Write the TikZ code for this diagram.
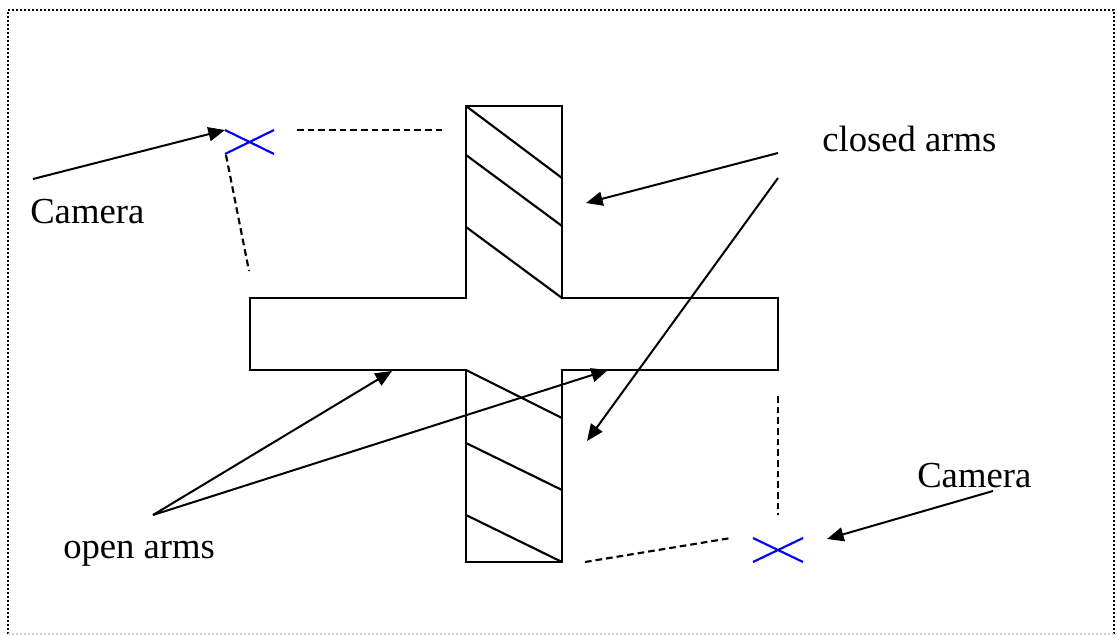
\documentclass[tikz,border=0pt]{standalone}
\usepackage{fontspec}
\setmainfont{Liberation Serif}
\usetikzlibrary{arrows.meta}
\def\LabelSize{27.5}
\def\ArmLeft{466}
\def\ArmRight{562}
\def\BarLeft{250}
\def\BarRight{778}
\def\BarTop{298}
\def\BarBottom{370}

\begin{document}
\begin{tikzpicture}[x=0.75pt,y=-0.75pt,
  frame/.style={line width=1.5pt,dash pattern=on 1.5pt off 1.5pt},
  outline/.style={line width=1.7pt,line join=miter},
  hatch/.style={line width=1.6pt},
  sightline/.style={line width=1.6pt,dash pattern=on 5pt off 3pt},
  pointer/.style={line width=1.5pt,-{Triangle[length=12.5pt,width=10.5pt]}},
  camera/.style={blue,line width=1.6pt},
  label/.style={anchor=base west,inner sep=0pt,font=\fontsize{\LabelSize}{33}\selectfont}
]

\useasboundingbox (0,0) rectangle (1117,635);

% =====================================================
% PAGE FRAME
% =====================================================
\draw[frame] (8,634) -- (8,10) -- (1114,10) -- (1114,634);
\draw[frame,gray!35] (8,634) -- (1114,634);

% =====================================================
% PLUS MAZE
% =====================================================
\draw[outline] (\BarLeft,\BarTop) -- (\ArmLeft,\BarTop) -- (\ArmLeft,106) -- (\ArmRight,106)
  -- (\ArmRight,\BarTop) -- (\BarRight,\BarTop) -- (\BarRight,\BarBottom) -- (\ArmRight,\BarBottom)
  -- (\ArmRight,562) -- (\ArmLeft,562) -- (\ArmLeft,\BarBottom) -- (\BarLeft,\BarBottom) -- cycle;

% Hatching of the closed arms
\foreach \ya/\yb in {106/178,155/226,227/298,370/418,443/490,515/562} {
    \draw[hatch] (\ArmLeft,\ya) -- (\ArmRight,\yb);
}

% =====================================================
% CAMERAS
% =====================================================
\draw[camera] (225,130) -- (274,154) (225,154) -- (274,130);
\draw[camera] (753,538) -- (803,562) (753,562) -- (803,538);

\coordinate (camTL) at (225,130);
\coordinate (camBR) at (827,539);

% Lines of sight
\draw[sightline] (297,130) -- (443,130);
\draw[sightline] (226,155) -- (249,271);
\draw[sightline] (778,396) -- (778,515);
\draw[sightline] (585,562) -- (731,538);

% =====================================================
% LABELS AND POINTERS
% =====================================================
\node[label] (lblCamTL) at (30,223) {Camera};
\node[label] (lblClosed) at (822,151) {closed arms};
\node[label] (lblCamBR) at (917,487) {Camera};
\node[label] (lblOpen) at (63,558) {open arms};

\coordinate (camTLFrom) at (33,179);
\coordinate (closedFrom) at (778,153);
\coordinate (closedFromB) at (778,178);
\coordinate (closedTop) at (586,203);
\coordinate (closedBottom) at (587,441);
\coordinate (openFrom) at (153,515);
\coordinate (openLeft) at (392,371);
\coordinate (openRight) at (608,370);
\coordinate (camBRFrom) at (993,491);

\draw[pointer] (camTLFrom) -- (camTL);
\draw[pointer] (closedFrom) -- (closedTop);
\draw[pointer] (closedFromB) -- (closedBottom);
\draw[pointer] (openFrom) -- (openLeft);
\draw[pointer] (openFrom) -- (openRight);
\draw[pointer] (camBRFrom) -- (camBR);

\end{tikzpicture}
\end{document}
